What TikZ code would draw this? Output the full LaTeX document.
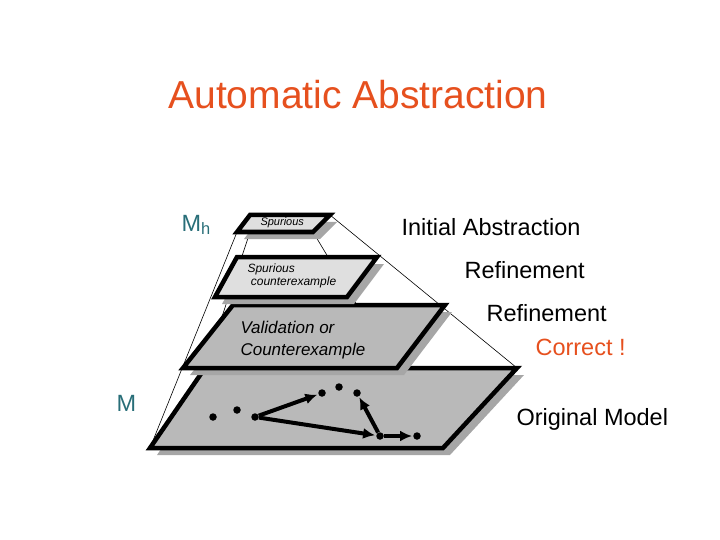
\documentclass[tikz,border=0pt]{standalone}
\usepackage{fontspec}
\setmainfont{Liberation Sans}
\usetikzlibrary{arrows.meta}
\begin{document}
\begin{tikzpicture}[x=1pt,y=-1pt,
  plane/.style={draw=black,line width=4.5pt,line join=miter},
  shadow/.style={fill=gray!70,draw=none},
  guide/.style={draw=black,line width=0.6pt},
  dot/.style={circle,fill=black,inner sep=0pt,minimum size=7.5pt},
  arr/.style={line width=4pt,shorten >=1pt,-{Latex[length=12pt,width=11pt]}},
  lbl/.style={font=\fontsize{23.5}{26}\selectfont,anchor=west}]
\useasboundingbox (0,0) rectangle (720,540);
\node[font=\fontsize{39}{44}\selectfont,text={rgb,255:red,230;green,80;blue,30}] (title) at (358,95) {Automatic Abstraction};
% guide lines
\draw[guide] (237,232) -- (150,448);
\draw[guide] (330,215) -- (517,368);
\draw[guide] (313,232) -- (443,448);
\draw[guide] (250,232) -- (205,368);
% bottom plane
\fill[shadow] (212,375) -- (524,375) -- (450,455) -- (157,455) -- cycle;
\draw[plane,fill=gray!55] (205,368) -- (517,368) -- (443,448) -- (150,448) -- cycle;
% plane 3
\fill[shadow] (240,312) -- (452,312) -- (404,375) -- (190,375) -- cycle;
\draw[plane,fill=gray!55] (233,305) -- (445,305) -- (397,368) -- (183,368) -- cycle;
% plane 2
\fill[shadow] (244,264) -- (384,264) -- (354,304) -- (222,304) -- cycle;
\draw[plane,fill=gray!25] (237,257) -- (377,257) -- (347,297) -- (215,297) -- cycle;
% top plane
\fill[shadow] (257,222) -- (337,222) -- (320,239) -- (244,239) -- cycle;
\draw[plane,fill=gray!25] (250,215) -- (330,215) -- (313,232) -- (237,232) -- cycle;
\node[font=\itshape\fontsize{11}{12}\selectfont,anchor=west] (sp1) at (257,223) {Spurious};
\node[font=\itshape\fontsize{12}{13}\selectfont,align=left,anchor=west] (sp2) at (244,276) {Spurious\\\ counterexample};
\node[font=\itshape\fontsize{17}{22}\selectfont,align=left,anchor=west] (val) at (237,340) {Validation or\\Counterexample};
% dots
\node[dot] (d1) at (213,417) {};
\node[dot] (d2) at (237,410) {};
\node[dot] (d3) at (255,417) {};
\node[dot] (d4) at (322,393) {};
\node[dot] (d5) at (339,387) {};
\node[dot] (d6) at (357,393) {};
\node[dot] (d7) at (380,436) {};
\node[dot] (d8) at (417,436) {};
\draw[arr] (d3) -- (d4);
\draw[arr] (d3) -- (d7);
\draw[arr] (d7) -- (d6);
\draw[arr] (d7) -- (d8);
% labels
\node[lbl,text={rgb,255:red,40;green,110;blue,120}] (mh) at (178,225) {M\textsubscript{h}};
\node[lbl,text={rgb,255:red,40;green,110;blue,120}] (m) at (113,403) {M};
\node[lbl] (ia) at (398,227) {Initial Abstraction};
\node[lbl] (r1) at (461,270) {Refinement};
\node[lbl] (r2) at (483,313) {Refinement};
\node[lbl,text={rgb,255:red,230;green,80;blue,30}] (cor) at (532,347) {Correct !};
\node[lbl] (om) at (513,419) {Original Model};
\end{tikzpicture}
\end{document}
